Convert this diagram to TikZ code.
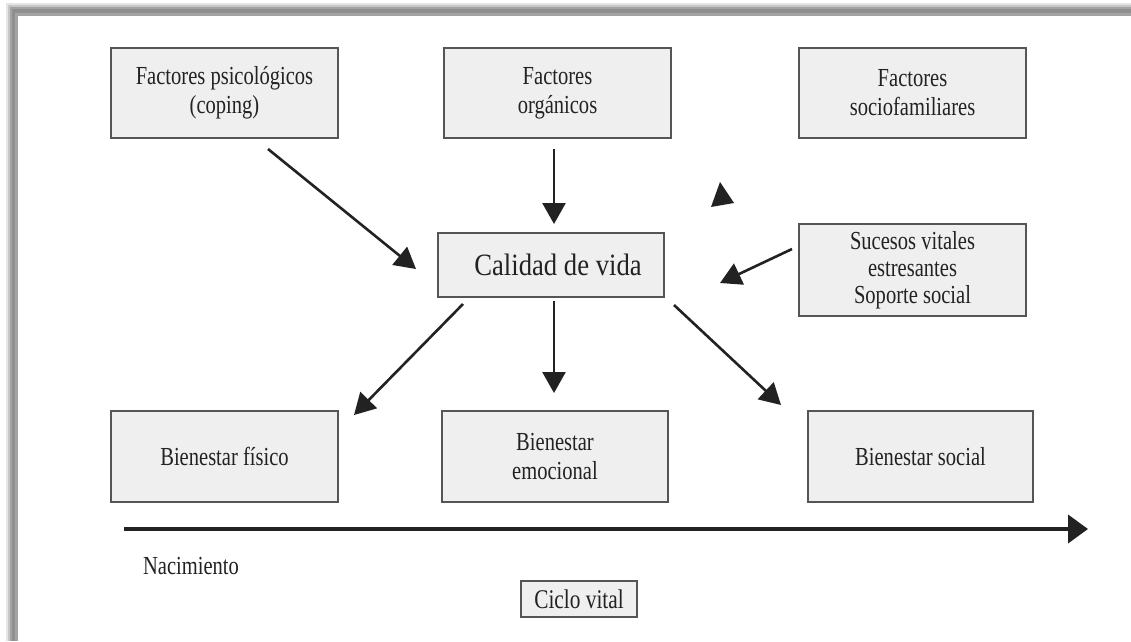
\documentclass[tikz,border=0pt]{standalone}
\usepackage{fontspec}
\setmainfont[FakeStretch=0.79]{Liberation Serif}
\newfontfamily\widefont[FakeStretch=0.86]{Liberation Serif}
\usetikzlibrary{arrows.meta,calc}

\definecolor{boxfill}{HTML}{EFEFEF}
\definecolor{boxline}{HTML}{555555}
\definecolor{ink}{HTML}{222222}

\tikzset{
  factorbox/.style={draw=boxline, line width=2pt, fill=boxfill, text=ink,
    minimum width=227pt, minimum height=90pt, align=center, inner sep=0pt,
    font=\fontsize{26}{29}\selectfont},
  arr/.style={draw=ink, line width=2.6pt,
    -{Triangle[length=21pt,width=23pt]}},
  timeline/.style={draw=ink, line width=4pt,
    -{Triangle[length=20pt,width=28pt]}},
}

\begin{document}
\begin{tikzpicture}[x=1pt,y=-1pt]
  % page and its soft shadow along the left and top edges
  \useasboundingbox (0,0) rectangle (1131,641);
  \fill[white] (0,0) rectangle (1131,641);
  \fill[black!10] (6,3) rectangle (1131,641);
  \fill[black!22] (8,5) rectangle (1131,641);
  \fill[black!36] (10,7) rectangle (1131,641);
  \fill[black!44] (12,9) rectangle (1131,641);
  \fill[black!36] (15,13) rectangle (1131,641);
  \fill[white] (18,16) rectangle (1131,641);

  % upper row of factors
  \node[factorbox] (psy) at (224.5,93) {Factores psicológicos\\(coping)};
  \node[factorbox] (org) at (557.5,93) {Factores\\orgánicos};
  \node[factorbox] (soc) at (912.5,93) {Factores\\sociofamiliares};

  % centre and side box
  \node[factorbox, minimum width=226pt, minimum height=64pt,
        font=\widefont\fontsize{31}{34}\selectfont] (cal) at (551,265)
        {\hspace*{14pt}Calidad de vida};
  \node[factorbox, minimum height=92pt, font=\fontsize{26}{27}\selectfont]
        (suc) at (912.5,270) {Sucesos vitales\\estresantes\\Soporte social};

  % lower row of outcomes
  \node[factorbox, minimum height=91pt] (bfis) at (224.5,456.5) {Bienestar físico};
  \node[factorbox, minimum width=226pt, minimum height=91pt] (bemo) at (555,456.5) {Bienestar\\emocional};
  \node[factorbox, minimum width=225pt, minimum height=91pt] (bsoc) at (920.5,456.5) {Bienestar social};

  % life-span axis
  \coordinate (tstart) at (124,529);
  \coordinate (tend) at (1088,529);
  \draw[timeline] (tstart) -- (tend);
  \node[text=ink, font=\fontsize{26}{29}\selectfont, inner sep=0pt] (nac) at (191,566) {Nacimiento};
  \node[draw=boxline, line width=2pt, fill=boxfill, text=ink,
        minimum width=116pt, minimum height=36pt, inner sep=0pt,
        font=\fontsize{27}{29}\selectfont] (ciclo) at (579,599) {Ciclo vital};

  % influences on quality of life
  \draw[arr] ($(psy.south)+(43.5,10)$) -- ($(cal.west)+(-21,4)$);
  \draw[arr] ($(org.south)+(-3.5,10)$) -- ($(cal.north)+(3,-8)$);
  \draw[arr] ($(suc.west)+(-6,-21)$) -- ($(cal.east)+(55,18)$);

  % effects of quality of life
  \draw[arr] ($(cal.south west)+(26,6)$) -- ($(bfis.north east)+(15,5)$);
  \draw[arr] ($(cal.south)+(3,3)$) -- ($(bemo.north)+(-1,-17)$);
  \draw[arr] ($(cal.south east)+(9,7)$) -- ($(bsoc.north west)+(-26,-5)$);

  % lone arrow tip
  \fill[ink] (720,182) -- (711,207) -- (734,203) -- cycle;
\end{tikzpicture}
\end{document}
